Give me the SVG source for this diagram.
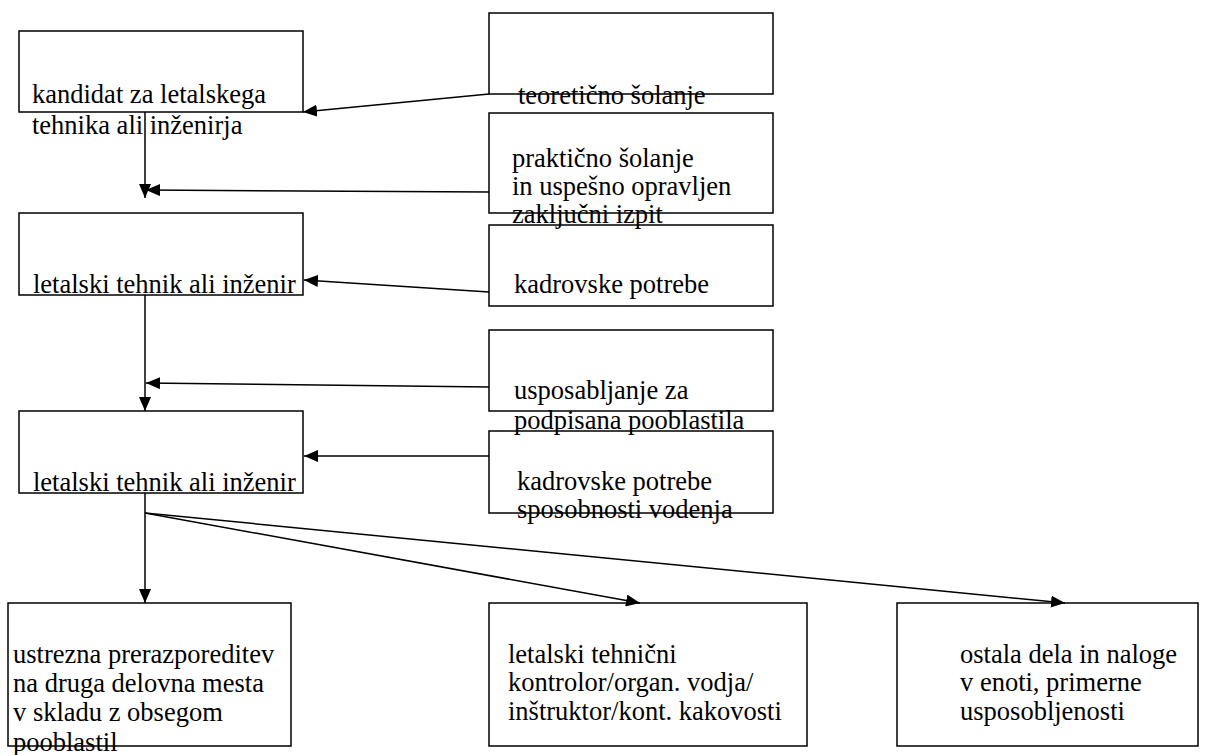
<svg xmlns="http://www.w3.org/2000/svg" width="1208" height="755" viewBox="0 0 1208 755">
<style>
.box{fill:none;stroke:#000;stroke-width:1.5}
.c{fill:none;stroke:#000;stroke-width:1.5}
</style>
<defs>
<marker id="ah" viewBox="0 0 14 12" refX="14" refY="6" markerWidth="14" markerHeight="12" markerUnits="userSpaceOnUse" orient="auto">
<path d="M0,0 L14,6 L0,12 Z" fill="#000"/>
</marker>
</defs>
<rect width="1208" height="755" fill="#fff"/>
<g id="n1"><rect class="box" x="19" y="31" width="284" height="81"/>
<text font-family="Liberation Serif" font-size="26.5" x="32" y="103">kandidat za letalskega</text><text font-family="Liberation Serif" font-size="26.5" x="32" y="134">tehnika ali inženirja</text></g>
<g id="n2"><rect class="box" x="19" y="213" width="284" height="82"/>
<text font-family="Liberation Serif" font-size="26.5" x="33" y="293">letalski tehnik ali inženir</text></g>
<g id="n3"><rect class="box" x="19" y="411" width="284" height="82"/>
<text font-family="Liberation Serif" font-size="26.5" x="33" y="491">letalski tehnik ali inženir</text></g>
<g id="r1"><rect class="box" x="489" y="13" width="284" height="81"/>
<text font-family="Liberation Serif" font-size="26.5" x="518" y="104">teoretično šolanje</text></g>
<g id="r2"><rect class="box" x="489" y="113" width="284" height="100"/>
<text font-family="Liberation Serif" font-size="26.5" x="512" y="167">praktično šolanje</text><text font-family="Liberation Serif" font-size="26.5" x="512" y="195">in uspešno opravljen</text><text font-family="Liberation Serif" font-size="26.5" x="512" y="223">zaključni izpit</text></g>
<g id="r3"><rect class="box" x="489" y="225" width="284" height="81"/>
<text font-family="Liberation Serif" font-size="26.5" x="514" y="293">kadrovske potrebe</text></g>
<g id="r4"><rect class="box" x="489" y="330" width="284" height="81"/>
<text font-family="Liberation Serif" font-size="26.5" x="514" y="399">usposabljanje za</text><text font-family="Liberation Serif" font-size="26.5" x="514" y="429">podpisana pooblastila</text></g>
<g id="r5"><rect class="box" x="489" y="431" width="284" height="82"/>
<text font-family="Liberation Serif" font-size="26.5" x="517" y="490">kadrovske potrebe</text><text font-family="Liberation Serif" font-size="26.5" x="517" y="518">sposobnosti vodenja</text></g>
<g id="b1"><rect class="box" x="8" y="603" width="283" height="143"/>
<text font-family="Liberation Serif" font-size="26.5" x="13" y="663">ustrezna prerazporeditev</text><text font-family="Liberation Serif" font-size="26.5" x="13" y="692">na druga delovna mesta</text><text font-family="Liberation Serif" font-size="26.5" x="13" y="721">v skladu z obsegom</text><text font-family="Liberation Serif" font-size="26.5" x="13" y="751">pooblastil</text></g>
<g id="b2"><rect class="box" x="489" y="603" width="318" height="143"/>
<text font-family="Liberation Serif" font-size="26.5" x="508" y="663">letalski tehnični</text><text font-family="Liberation Serif" font-size="26.5" x="508" y="691">kontrolor/organ. vodja/</text><text font-family="Liberation Serif" font-size="26.5" x="508" y="720">inštruktor/kont. kakovosti</text></g>
<g id="b3"><rect class="box" x="897" y="603" width="301" height="143"/>
<text font-family="Liberation Serif" font-size="26.5" x="960" y="663">ostala dela in naloge</text><text font-family="Liberation Serif" font-size="26.5" x="960" y="691">v enoti, primerne</text><text font-family="Liberation Serif" font-size="26.5" x="960" y="720">usposobljenosti</text></g>
<g id="connectors">
<line class="c" x1="489" y1="94" x2="303" y2="112" marker-end="url(#ah)"/>
<line class="c" x1="145" y1="112" x2="145" y2="198" marker-end="url(#ah)"/>
<line class="c" x1="489" y1="192" x2="146" y2="190" marker-end="url(#ah)"/>
<line class="c" x1="489" y1="292" x2="304" y2="280" marker-end="url(#ah)"/>
<line class="c" x1="145" y1="295" x2="145" y2="411" marker-end="url(#ah)"/>
<line class="c" x1="489" y1="387" x2="146" y2="383" marker-end="url(#ah)"/>
<line class="c" x1="489" y1="456" x2="304" y2="456" marker-end="url(#ah)"/>
<line class="c" x1="145" y1="493" x2="145" y2="603" marker-end="url(#ah)"/>
<line class="c" x1="145" y1="513" x2="640" y2="603" marker-end="url(#ah)"/>
<line class="c" x1="145" y1="513" x2="1065" y2="603" marker-end="url(#ah)"/>
</g>
</svg>
